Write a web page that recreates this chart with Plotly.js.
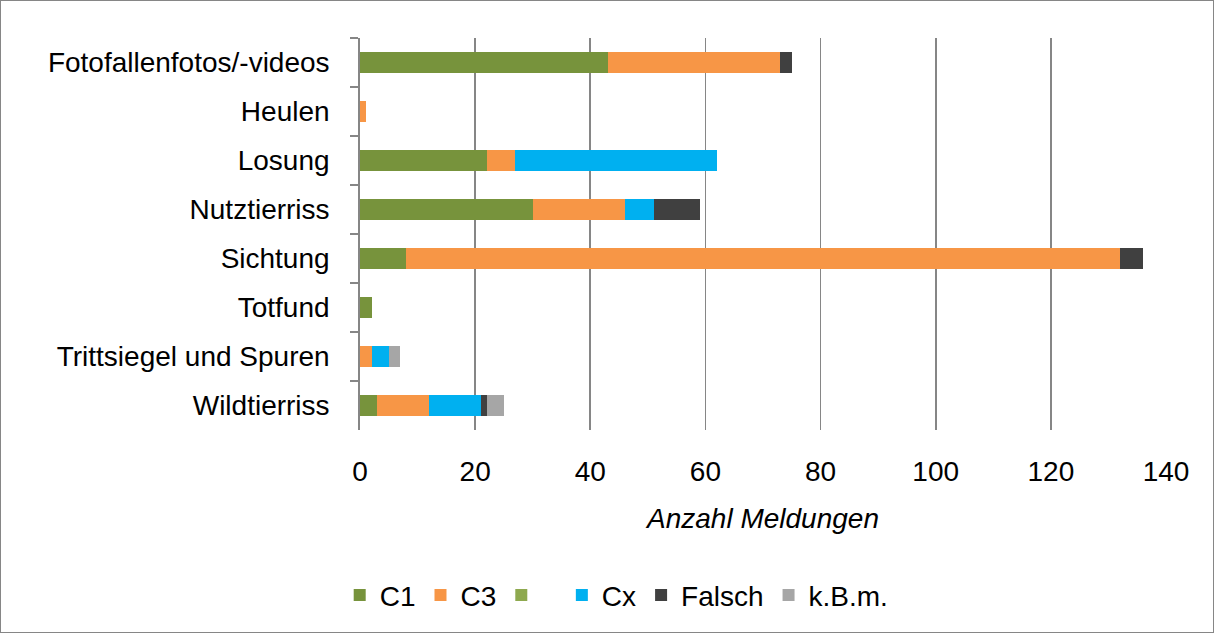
<!DOCTYPE html>
<html>
<head>
<meta charset="utf-8">
<script src="https://cdn.plot.ly/plotly-3.0.1.min.js"></script>
<style>
html,body{margin:0;padding:0;background:#fff;}
#chart{width:1214px;height:633px;box-sizing:border-box;border:1px solid #868686;}
</style>
</head>
<body>
<div id="chart"></div>
<script>
const categories = ["Fotofallenfotos/-videos","Heulen","Losung","Nutztierriss","Sichtung","Totfund","Trittsiegel und Spuren","Wildtierriss"];
const seriesNames = ["C1","C3","\u00a0\u00a0","Cx","Falsch","k.B.m."];
const c1     = [43, 0, 22, 30,   8, 2, 0, 3];
const c3     = [30, 1,  5, 16, 124, 0, 2, 9];
const blank  = [ 0, 0,  0,  0,   0, 0, 0, 0];
const cx     = [ 0, 0, 35,  5,   0, 0, 3, 9];
const falsch = [ 2, 0,  0,  8,   4, 0, 0, 1];
const kbm    = [ 0, 0,  0,  0,   0, 0, 2, 3];
const xTicks = [0, 20, 40, 60, 80, 100, 120, 140];

const values = [c1, c3, blank, cx, falsch, kbm];
const colors = ["#77933C", "#F79646", "#8EA94F", "#00B0F0", "#404040", "#A6A6A6"];

const FONT = "Liberation Sans, Arial, sans-serif";
const FS = 28;
const traces = values.map((v, i) => ({
  type: "bar",
  orientation: "h",
  name: seriesNames[i],
  y: categories,
  x: v,
  marker: {color: colors[i], line: {width: 0}},
  hoverinfo: "x+y+name"
}));

const layout = {
  width: 1212, height: 631,
  barmode: "stack",
  bargap: 0.58,
  paper_bgcolor: "#ffffff",
  plot_bgcolor: "#ffffff",
  font: {family: FONT, size: FS, color: "#000000"},
  margin: {l: 359, r: 47, t: 37, b: 202, pad: 0},
  xaxis: {
    range: [0, 140],
    tickvals: xTicks,
    ticktext: xTicks.map(String),
    showgrid: true,
    gridcolor: "#868686",
    gridwidth: 1.8,
    zeroline: false,
    showline: false,
    ticks: "",
    ticklabelstandoff: 22,
    tickfont: {size: FS},
    title: {text: "<i>Anzahl Meldungen</i>", font: {size: FS}, standoff: 22}
  },
  yaxis: {
    autorange: "reversed",
    type: "category",
    showline: true,
    linecolor: "#868686",
    linewidth: 1.8,
    ticks: "outside",
    tickson: "boundaries",
    ticklen: 8,
    tickwidth: 1.8,
    tickcolor: "#868686",
    showgrid: false,
    ticklabelstandoff: 23,
    tickfont: {size: FS}
  },
  legend: {
    orientation: "h",
    xref: "container", yref: "container",
    x: 0.508, xanchor: "center",
    y: 0.058, yanchor: "middle",
    font: {size: FS},
    traceorder: "normal",
    itemwidth: 30
  },
  showlegend: true
};

Plotly.newPlot("chart", traces, layout, {displayModeBar: false, staticPlot: true});
</script>
</body>
</html>
